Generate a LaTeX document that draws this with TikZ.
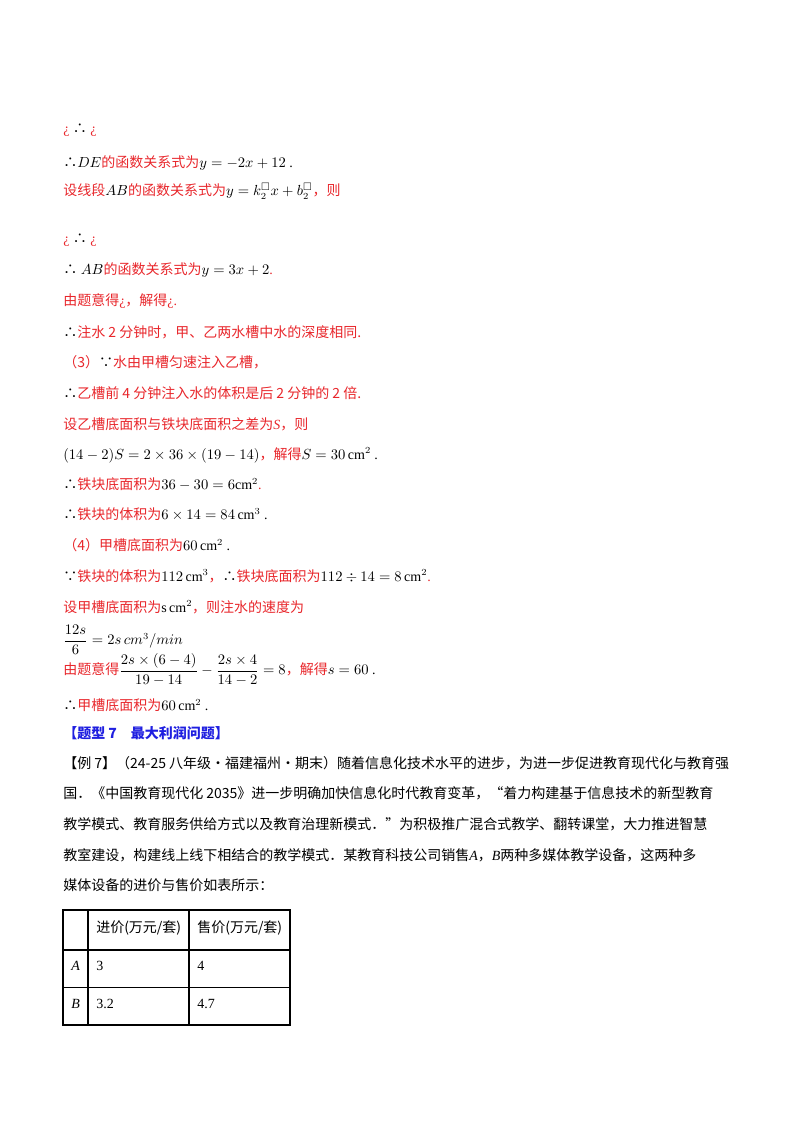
\documentclass[tikz,border=0pt]{standalone}
\usepackage{amsmath,amssymb}
\usepackage{fontspec}
\setmainfont{Liberation Serif}
\newfontfamily\cjk{Noto Sans CJK SC}
\definecolor{rd}{HTML}{E8262B}
\definecolor{bl}{HTML}{1F1FE0}
\newcommand\zr[1]{{\cjk\color{rd}#1}}
\newcommand\zk[1]{{\cjk #1}}
\begin{document}
\begin{tikzpicture}[x=0.75pt,y=-0.75pt,
  ln/.style={anchor=west,inner sep=0pt,font=\fontsize{10.5pt}{12pt}\selectfont},
  tb/.style={draw,line width=0.8pt}]
\useasboundingbox (0,0) rectangle (800,1132);
\node[ln] (l1) at (63,130) {\textcolor{rd}{¿} \zk{∴} \textcolor{rd}{¿}};
\node[ln] (l2) at (63,163) {\zk{∴}$DE$\zr{的函数关系式为}$y=-2x+12$ .};
\node[ln] (l3) at (63,191) {\zr{设线段}$AB$\zr{的函数关系式为}$y=k_2^{\square}x+b_2^{\square}$\zr{，则}};
\node[ln] (l4) at (63,240) {\textcolor{rd}{¿} \zk{∴} \textcolor{rd}{¿}};
\node[ln] (l5) at (63,270) {\zk{∴} $AB$\zr{的函数关系式为}$y=3x+2$\textcolor{rd}{.}};
\node[ln] (l6) at (63,301) {\zr{由题意得}\textcolor{rd}{¿}\zr{，解得}\textcolor{rd}{¿.}};
\node[ln] (l7) at (63,332) {\zk{∴}\zr{注水 2 分钟时，甲、乙两水槽中水的深度相同.}};
\node[ln] (l8) at (63,362) {\zr{（3）}\zk{∵}\zr{水由甲槽匀速注入乙槽，}};
\node[ln] (l9) at (63,393) {\zk{∴}\zr{乙槽前 4 分钟注入水的体积是后 2 分钟的 2 倍.}};
\node[ln] (l10) at (63,424) {\zr{设乙槽底面积与铁块底面积之差为}\textcolor{rd}{\itshape S}\zr{，则}};
\node[ln] (l11) at (63,455) {$(14-2)S=2\times36\times(19-14)$\zr{，解得}$S=30\,\mathrm{cm}^2$ .};
\node[ln] (l12) at (63,484) {\zk{∴}\zr{铁块底面积为}$36-30=6\mathrm{cm}^2$\textcolor{rd}{.}};
\node[ln] (l13) at (63,514) {\zk{∴}\zr{铁块的体积为}$6\times14=84\,\mathrm{cm}^3$ .};
\node[ln] (l14) at (63,545) {\zr{（4）甲槽底面积为}$60\,\mathrm{cm}^2$ .};
\node[ln] (l15) at (63,576) {\zk{∵}\zr{铁块的体积为}$112\,\mathrm{cm}^3$\zr{，}\zk{∴}\zr{铁块底面积为}$112\div14=8\,\mathrm{cm}^2$\textcolor{rd}{.}};
\node[ln] (l16) at (63,607) {\zr{设甲槽底面积为}$\mathrm{s}\,\mathrm{cm}^2$\zr{，则注水的速度为}};
\node[ln] (l17) at (63,640) {$\dfrac{12s}{6}=2s\,cm^3/min$};
\node[ln] (l18) at (63,670) {\zr{由题意得}$\dfrac{2s\times(6-4)}{19-14}-\dfrac{2s\times4}{14-2}=8$\zr{，解得}$s=60$ .};
\node[ln] (l19) at (63,705) {\zk{∴}\zr{甲槽底面积为}$60\,\mathrm{cm}^2$ .};
\node[ln,text=bl] (t) at (63,733) {\cjk\bfseries 【题型 7\quad 最大利润问题】};
\node[ln] (p1) at (63,763) {\zk{【例 7】（24-25 八年级·福建福州·期末）随着信息化技术水平的进步，为进一步促进教育现代化与教育强}};
\node[ln] (p2) at (63,793) {\zk{国．《中国教育现代化 2035》进一步明确加快信息化时代教育变革，“着力构建基于信息技术的新型教育}};
\node[ln] (p3) at (63,824) {\zk{教学模式、教育服务供给方式以及教育治理新模式．”为积极推广混合式教学、翻转课堂，大力推进智慧}};
\node[ln] (p4) at (63,855) {\zk{教室建设，构建线上线下相结合的教学模式．某教育科技公司销售}\textit{A}\zk{，}\textit{B}\zk{两种多媒体教学设备，这两种多}};
\node[ln] (p5) at (63,885) {\zk{媒体设备的进价与售价如表所示：}};
% table
\draw[tb] (63,910) rectangle (290,1025);
\draw[tb] (63,950) -- (290,950);
\draw[tb] (63,987.5) -- (290,987.5);
\draw[tb] (88,910) -- (88,1025);
\draw[tb] (189,910) -- (189,1025);
\node[ln] (h1) at (96,928) {\zk{进价(万元/套)}};
\node[ln] (h2) at (197,928) {\zk{售价(万元/套)}};
\node[ln] (ra) at (71,966) {\textit{A}};
\node[ln] (a1) at (96,966) {3};
\node[ln] (a2) at (197,966) {4};
\node[ln] (rb) at (71,1004) {\textit{B}};
\node[ln] (b1) at (96,1004) {3.2};
\node[ln] (b2) at (197,1004) {4.7};
\end{tikzpicture}
\end{document}
